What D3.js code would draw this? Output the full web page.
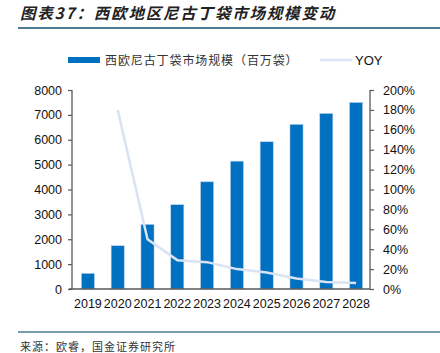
<!DOCTYPE html>
<html>
<head>
<meta charset="utf-8">
<script src="https://cdn.jsdelivr.net/npm/d3@7"></script>
<style>
  html, body { margin: 0; padding: 0; background: #fff; }
  svg { display: block; }
</style>
</head>
<body>
<div id="chart"></div>
<script>
// ---- Data ----
const years = ['2019', '2020', '2021', '2022', '2023', '2024', '2025', '2026', '2027', '2028'];
const marketSize = [630, 1740, 2600, 3390, 4310, 5140, 5920, 6620, 7060, 7500];
const yoy = [null, 1.80, 0.50, 0.29, 0.27, 0.20, 0.165, 0.105, 0.07, 0.06];
const leftTicks = [0, 1000, 2000, 3000, 4000, 5000, 6000, 7000, 8000];
const rightTicks = [0, 0.2, 0.4, 0.6, 0.8, 1.0, 1.2, 1.4, 1.6, 1.8, 2.0];

const W = 440, H = 353;
const numFont = '"Liberation Sans", Arial, sans-serif';
const cjkFont = '"Noto Sans CJK SC", sans-serif';

const svg = d3.select('#chart').append('svg').attr('width', W).attr('height', H);

// ---- Title + rules ----
svg.append('text')
  .attr('x', 20).attr('y', 19)
  .attr('font-family', cjkFont)
  .attr('font-size', 15.5)
  .attr('font-weight', 'bold')
  .attr('font-style', 'italic')
  .attr('letter-spacing', 1.8)
  .attr('fill', '#222')
  .text('图表37：西欧地区尼古丁袋市场规模变动');

svg.append('line')
  .attr('x1', 18).attr('x2', W).attr('y1', 28).attr('y2', 28)
  .attr('stroke', '#4d7a93').attr('stroke-width', 2);

svg.append('line')
  .attr('x1', 18).attr('x2', W).attr('y1', 332).attr('y2', 332)
  .attr('stroke', '#4d7a93').attr('stroke-width', 1.5);

svg.append('text')
  .attr('x', 20).attr('y', 351)
  .attr('font-family', cjkFont)
  .attr('font-size', 11)
  .attr('letter-spacing', 1)
  .attr('fill', '#333')
  .text('来源：欧睿，国金证券研究所');

// ---- Scales ----
const plot = { left: 72, right: 370, top: 90, bottom: 289 };

const x = d3.scaleBand().domain(years)
  .range([plot.left + 1, plot.right + 1])
  .paddingInner(0.56).paddingOuter(0.28);

const yL = d3.scaleLinear().domain([0, 8000]).range([plot.bottom, plot.top]);
const yR = d3.scaleLinear().domain([0, 2]).range([plot.bottom, plot.top]);

// ---- Bars ----
svg.append('g').selectAll('rect').data(marketSize).join('rect')
  .attr('x', (d, i) => x(years[i]))
  .attr('y', d => yL(d))
  .attr('width', x.bandwidth())
  .attr('height', d => plot.bottom - yL(d))
  .attr('fill', '#0070c0')
  .attr('stroke', '#bcd3ec')
  .attr('stroke-width', 0.6);

// ---- YOY line ----
const lineGen = d3.line()
  .defined(d => d != null)
  .x((d, i) => x(years[i]) + x.bandwidth() / 2)
  .y(d => yR(d));

svg.append('path')
  .datum(yoy)
  .attr('d', lineGen)
  .attr('fill', 'none')
  .attr('stroke', '#dae3f3')
  .attr('stroke-width', 2.5)
  .attr('stroke-linejoin', 'round');

// ---- Axes ----
const axisColor = '#595959';

const leftAxis = svg.append('g')
  .attr('transform', `translate(${plot.left},0)`)
  .call(d3.axisLeft(yL).tickValues(leftTicks).tickSize(4).tickPadding(6).tickFormat(d3.format('d')));

const rightAxis = svg.append('g')
  .attr('transform', `translate(${plot.right},0)`)
  .call(d3.axisRight(yR).tickValues(rightTicks).tickSize(4).tickPadding(9).tickFormat(d => Math.round(d * 100) + '%'));

[leftAxis, rightAxis].forEach(a => {
  a.select('.domain').attr('stroke', axisColor).attr('stroke-width', 1.3)
    .attr('d', `M0,${plot.top}V${plot.bottom}`);
  a.selectAll('.tick line').attr('stroke', axisColor).attr('stroke-width', 1.2);
  a.selectAll('.tick text').attr('font-family', numFont).attr('font-size', 12.5).attr('fill', '#111');
});

// baseline
svg.append('line')
  .attr('x1', plot.left - 3).attr('x2', plot.right)
  .attr('y1', plot.bottom).attr('y2', plot.bottom)
  .attr('stroke', axisColor).attr('stroke-width', 1.3);

// x labels
const xAxis = svg.append('g')
  .attr('transform', `translate(0,${plot.bottom})`)
  .call(d3.axisBottom(x).tickSize(0).tickPadding(10));
xAxis.select('.domain').remove();
xAxis.selectAll('.tick text').attr('font-family', numFont).attr('font-size', 12.5).attr('fill', '#111');

// ---- Legend ----
const legend = svg.append('g');
legend.append('rect')
  .attr('x', 68).attr('y', 57).attr('width', 32).attr('height', 6)
  .attr('fill', '#0070c0');
legend.append('text')
  .attr('x', 105).attr('y', 64.5)
  .attr('font-family', cjkFont).attr('font-size', 12).attr('fill', '#333')
  .attr('letter-spacing', 0.9)
  .text('西欧尼古丁袋市场规模（百万袋）');
legend.append('line')
  .attr('x1', 320).attr('x2', 352).attr('y1', 60).attr('y2', 60)
  .attr('stroke', '#dae3f3').attr('stroke-width', 2.5);
legend.append('text')
  .attr('x', 355).attr('y', 65)
  .attr('font-family', numFont).attr('font-size', 13).attr('fill', '#111')
  .text('YOY');
</script>
</body>
</html>
